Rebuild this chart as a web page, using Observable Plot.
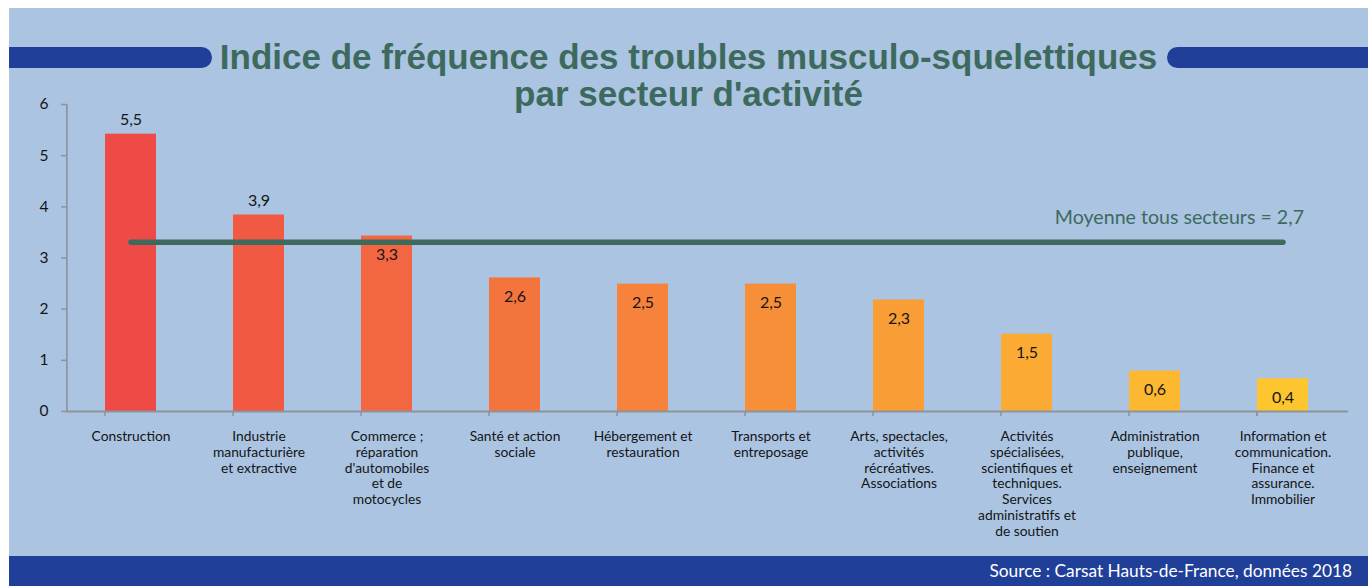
<!DOCTYPE html>
<html>
<head>
<meta charset="utf-8">
<script src="https://cdn.jsdelivr.net/npm/d3@7"></script>
<script src="https://cdn.jsdelivr.net/npm/@observablehq/plot@0.6"></script>
<style>
  html, body { margin: 0; padding: 0; background: #ffffff; }
  #wrap { position: absolute; left: 9px; top: 8px; width: 1359px; height: 578px; background: #aac4e2; overflow: hidden; }
  .pill { position: absolute; top: 39px; height: 21px; background: #1f3f99; }
  .pill.left { left: 0; width: 203px; border-radius: 0 10.5px 10.5px 0; }
  .pill.right { left: 1158px; width: 201px; border-radius: 10.5px 0 0 10.5px; }
  #chart { position: absolute; left: 0; top: 0; }
  .title { position: absolute; left: 0; top: 29.5px; width: 1359px; text-align: center;
           font: 700 35px "Liberation Sans", Arial, sans-serif; line-height: 37px; color: #3e6a5e; }
  .footer { position: absolute; left: 0; top: 548px; width: 1359px; height: 30px; background: #1f3f99;
            color: #ffffff; font: 17.3px Lato, sans-serif; line-height: 30px; text-align: right; box-sizing: border-box; padding-right: 16px; }
</style>
</head>
<body>
<div id="wrap">
  <div class="pill left"></div>
  <div class="pill right"></div>
  <div id="chart"></div>
  <div class="title" id="title"></div>
  <div class="footer" id="footer"></div>
</div>
<script>
// ---- data ----
const categories = [
  "Construction",
  "Industrie\nmanufacturière\net extractive",
  "Commerce ;\nréparation\nd'automobiles\net de\nmotocycles",
  "Santé et action\nsociale",
  "Hébergement et\nrestauration",
  "Transports et\nentreposage",
  "Arts, spectacles,\nactivités\nrécréatives.\nAssociations",
  "Activités\nspécialisées,\nscientifiques et\ntechniques.\nServices\nadministratifs et\nde soutien",
  "Administration\npublique,\nenseignement",
  "Information et\ncommunication.\nFinance et\nassurance.\nImmobilier"
];
// bar heights as drawn in the picture
const barValues = [5.42, 3.84, 3.43, 2.61, 2.49, 2.49, 2.18, 1.51, 0.79, 0.64];
// printed value labels
const valueLabels = [5.5, 3.9, 3.3, 2.6, 2.5, 2.5, 2.3, 1.5, 0.6, 0.4];
// mean line as drawn and its printed label
const meanLineValue = 3.31;
const meanLabelValue = 2.7;
const yTicks = [0, 1, 2, 3, 4, 5, 6];
const titleLines = ["Indice de fréquence des troubles musculo-squelettiques", "par secteur d'activité"];
const sourceText = "Source : Carsat Hauts-de-France, données 2018";

// ---- layout ----
const W = 1359, H = 548;
const mL = 57, mR = 20, mT = 96, mB = 145;
const padIn = 0.6, padOut = 0.3;
const step = (W - mL - mR) / (categories.length - padIn + 2 * padOut);
const axisColor = "#8d9399";
const textColor = "#151515";
const green = "#3e6a5e";
const colorStart = "#ef4b46", colorEnd = "#fec62e";
const fmt = v => String(v).replace(".", ",");

const data = categories.map((c, i) => ({cat: c, value: barValues[i], label: valueLabels[i], idx: i}));
const meanData = categories.map(c => ({cat: c, value: meanLineValue}));
const boundaries = categories.map(c => ({cat: c, dx: -step / 2})).concat([{cat: categories[categories.length - 1], dx: step / 2}]);
const above = data.filter(d => d.value > 3.5);
const inside = data.filter(d => d.value <= 3.5);

document.getElementById("title").innerHTML = titleLines.join("<br>");
document.getElementById("footer").textContent = sourceText;

const chart = Plot.plot({
  width: W,
  height: H,
  marginLeft: mL, marginRight: mR, marginTop: mT, marginBottom: mB,
  style: {background: "transparent", fontFamily: "Lato, sans-serif", color: textColor},
  x: {domain: categories, paddingInner: padIn, paddingOuter: padOut, axis: null},
  y: {domain: [0, 6], axis: null},
  color: {type: "linear", domain: [0, categories.length - 1], range: [colorStart, colorEnd], interpolate: "rgb"},
  marks: [
    Plot.barY(data, {x: "cat", y: "value", fill: d => d.idx}),
    // y axis
    Plot.ruleX([categories[0]], {x: d => d, dx: -step / 2, y1: 0, y2: 6, stroke: axisColor, strokeWidth: 1.6}),
    Plot.axisY({ticks: yTicks, tickSize: 5, tickPadding: 13, stroke: axisColor, fill: textColor, strokeWidth: 1.5,
      fontSize: 15.5, anchor: "left", tickFormat: d => d, label: null}),
    // x axis
    Plot.ruleY([0], {stroke: axisColor, strokeWidth: 2}),
    Plot.ruleX(boundaries, {x: "cat", dx: d => d.dx, y1: 0, y2: -0.1, stroke: axisColor, strokeWidth: 1.5}),
    Plot.text(categories, {x: d => d, y: 0, dy: 18.5, lineAnchor: "top", textAnchor: "middle", fontSize: 13.8, lineHeight: 1.14, fill: textColor}),
    // mean line
    Plot.line(meanData, {x: "cat", y: "value", stroke: green, strokeWidth: 5.5, strokeLinecap: "round"}),
    Plot.text([meanLabelValue], {x: () => categories[categories.length - 1], y: meanLineValue, dx: 21, dy: -24,
      text: d => "Moyenne tous secteurs = " + fmt(d), textAnchor: "end", fontSize: 19.6, fill: green}),
    // value labels
    Plot.text(above, {x: "cat", y: "value", dy: -14, text: d => fmt(d.label), fontSize: 16, fill: textColor}),
    Plot.text(inside, {x: "cat", y: "value", dy: 19, text: d => fmt(d.label), fontSize: 16, fill: textColor})
  ]
});
document.getElementById("chart").appendChild(chart);
</script>
</body>
</html>
